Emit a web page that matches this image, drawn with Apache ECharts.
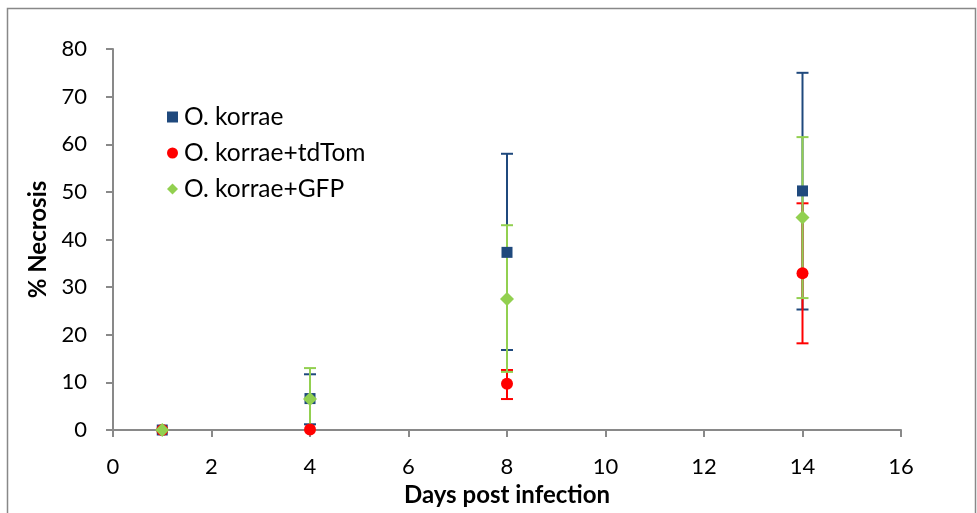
<!DOCTYPE html>
<html><head><meta charset="utf-8">
<script src="https://cdn.jsdelivr.net/npm/echarts@6/dist/echarts.min.js"></script>
<style>html,body{margin:0;padding:0;background:#fff}#c{width:977px;height:513px}</style>
</head><body><div id="c"></div>
<script>
const days = [1, 4, 8, 14];
const seriesNames = ['O. korrae', 'O. korrae+tdTom', 'O. korrae+GFP'];
const korrae = [0, 6.6, 37.3, 50.2];
const korraeLow = [0, 1.2, 16.8, 25.3];
const korraeHigh = [0, 11.7, 58.0, 75.0];
const tdTom = [0, 0.1, 9.7, 32.9];
const tdTomLow = [0, 0.1, 6.5, 18.2];
const tdTomHigh = [0, 0.1, 12.6, 47.6];
const gfp = [0, 6.5, 27.5, 44.6];
const gfpLow = [0, 0, 12.2, 27.7];
const gfpHigh = [0, 13.0, 43.0, 61.5];
const xTicks = [0, 2, 4, 6, 8, 10, 12, 14, 16];
const yTicks = [0, 10, 20, 30, 40, 50, 60, 70, 80];

const colors = ['#1F497D', '#FF0000', '#92D050'];
const FONT = 'Lato';
const vals = [korrae, tdTom, gfp];
const lows = [korraeLow, tdTomLow, gfpLow];
const highs = [korraeHigh, tdTomHigh, gfpHigh];
const symbols = ['rect', 'circle', 'diamond'];
const sizes = [11, 12, 14];

function errSeries(i) {
  return {
    type: 'custom', z: 2, silent: true,
    data: days.map((d, k) => [d, lows[i][k], highs[i][k]]),
    renderItem: function (params, api) {
      const x = api.value(0), lo = api.value(1), hi = api.value(2);
      if (hi - lo < 0.5) return null;
      const pHi = api.coord([x, hi]);
      const pLo = api.coord([x, lo]);
      const w = 6;
      const st = { stroke: colors[i], lineWidth: 2 };
      return {
        type: 'group', children: [
          { type: 'line', shape: { x1: pHi[0], y1: pHi[1], x2: pLo[0], y2: pLo[1] }, style: st },
          { type: 'line', shape: { x1: pHi[0] - w, y1: pHi[1], x2: pHi[0] + w, y2: pHi[1] }, style: st },
          { type: 'line', shape: { x1: pLo[0] - w, y1: pLo[1], x2: pLo[0] + w, y2: pLo[1] }, style: st }
        ]
      };
    }
  };
}

const series = [];
for (let i = 0; i < 3; i++) series.push(errSeries(i));
for (let i = 0; i < 3; i++) {
  series.push({
    name: seriesNames[i], type: 'scatter', z: 5 + i,
    symbol: symbols[i], symbolSize: sizes[i],
    itemStyle: { color: colors[i], opacity: 1 },
    data: days.map((d, k) => [d, vals[i][k]])
  });
}

const chart = echarts.init(document.getElementById('c'));
chart.setOption({
  animation: false,
  backgroundColor: '#fff',
  graphic: [{ type: 'rect', shape: { x: 7.5, y: 8.5, width: 968, height: 520 }, style: { fill: 'none', stroke: '#888', lineWidth: 1.5 }, silent: true }],
  grid: { left: 113, right: 76, top: 49, bottom: 83 },
  legend: {
    orient: 'vertical', left: 162, top: 98,
    itemWidth: 11, itemHeight: 11, itemGap: 8,
    data: seriesNames.map((n, i) => ({ name: n, icon: symbols[i] })),
    textStyle: { fontFamily: FONT, fontSize: 24.5, color: '#000', lineHeight: 28, padding: [0, 0, 0, 1] }
  },
  xAxis: {
    type: 'value', min: xTicks[0], max: xTicks[xTicks.length - 1], interval: 2,
    name: 'Days post infection', nameLocation: 'middle', nameGap: 52,
    nameTextStyle: { fontFamily: FONT, fontSize: 24, fontWeight: 'bold', color: '#000' },
    axisLine: { lineStyle: { color: '#898989', width: 2 } },
    axisTick: { show: true, length: 7, inside: false, lineStyle: { color: '#898989', width: 2 } },
    axisLabel: { fontFamily: FONT, fontSize: 22, color: '#000', margin: 26 },
    splitLine: { show: false }
  },
  yAxis: {
    type: 'value', min: yTicks[0], max: yTicks[yTicks.length - 1], interval: 10,
    name: '% Necrosis', nameLocation: 'middle', nameGap: 62, nameRotate: 90,
    nameTextStyle: { fontFamily: FONT, fontSize: 24, fontWeight: 'bold', color: '#000' },
    axisLine: { show: true, lineStyle: { color: '#898989', width: 2 } },
    axisTick: { show: true, length: 7, inside: false, lineStyle: { color: '#898989', width: 2 } },
    axisLabel: { fontFamily: FONT, fontSize: 22, color: '#000', margin: 26 },
    splitLine: { show: false }
  },
  series: series
});
</script></body></html>
